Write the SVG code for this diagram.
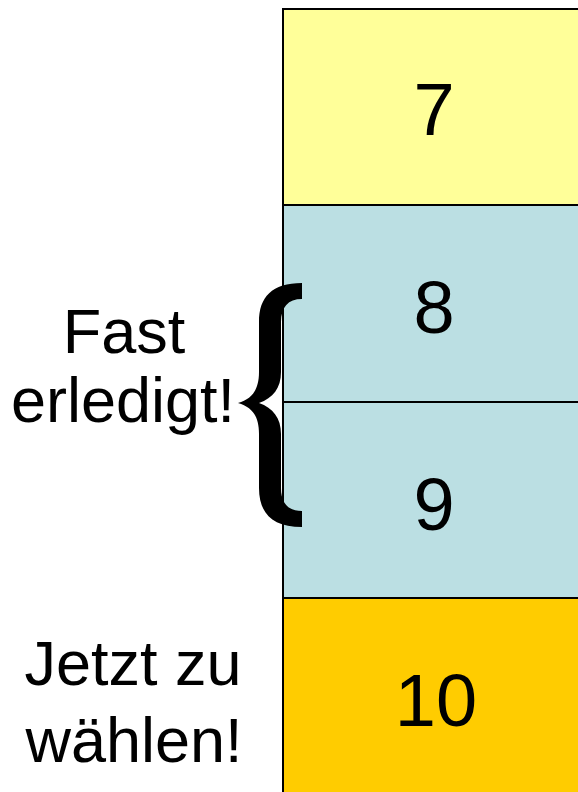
<svg xmlns="http://www.w3.org/2000/svg" width="578" height="792" viewBox="0 0 578 792">
<style>
.box{stroke:#000;stroke-width:2}
.num{font-family:"Liberation Sans",Arial,sans-serif;font-size:74px;text-anchor:middle;fill:#000}
.lbl{font-family:"Liberation Sans",Arial,sans-serif;font-size:63px;text-anchor:middle;fill:#000}
</style>
<rect width="578" height="792" fill="#fff"/>
<g id="n7"><rect class="box" x="283" y="9" width="310" height="196" fill="#FFFF99"/><text class="num" x="434" y="135">7</text></g>
<g id="n8"><rect class="box" x="283" y="205" width="310" height="197" fill="#BBDFE3"/><text class="num" x="434" y="333">8</text></g>
<g id="n9"><rect class="box" x="283" y="402" width="310" height="196" fill="#BBDFE3"/><text class="num" x="434" y="530">9</text></g>
<g id="n10"><rect class="box" x="283" y="598" width="310" height="210" fill="#FFCC00"/><text class="num" x="436" y="726">10</text></g>
<g id="brace"><path d="M302,283 C272,283 259,297 259,322 L259,372 C259,390 252,399 238,403 C252,407 259,416 259,434 L259,488 C259,513 272,527 302,527 L302,511 C288,511 281,503 281,488 L281,434 C281,418 273,408 259,403 C273,398 281,388 281,372 L281,322 C281,307 288,299 302,299 Z" fill="#000"/></g>
<g id="label1"><text class="lbl" x="124" y="353">Fast</text><text class="lbl" x="123" y="422">erledigt!</text></g>
<g id="label2"><text class="lbl" x="133" y="685">Jetzt zu</text><text class="lbl" x="134" y="762">wählen!</text></g>
<g id="connectors"></g>
</svg>
